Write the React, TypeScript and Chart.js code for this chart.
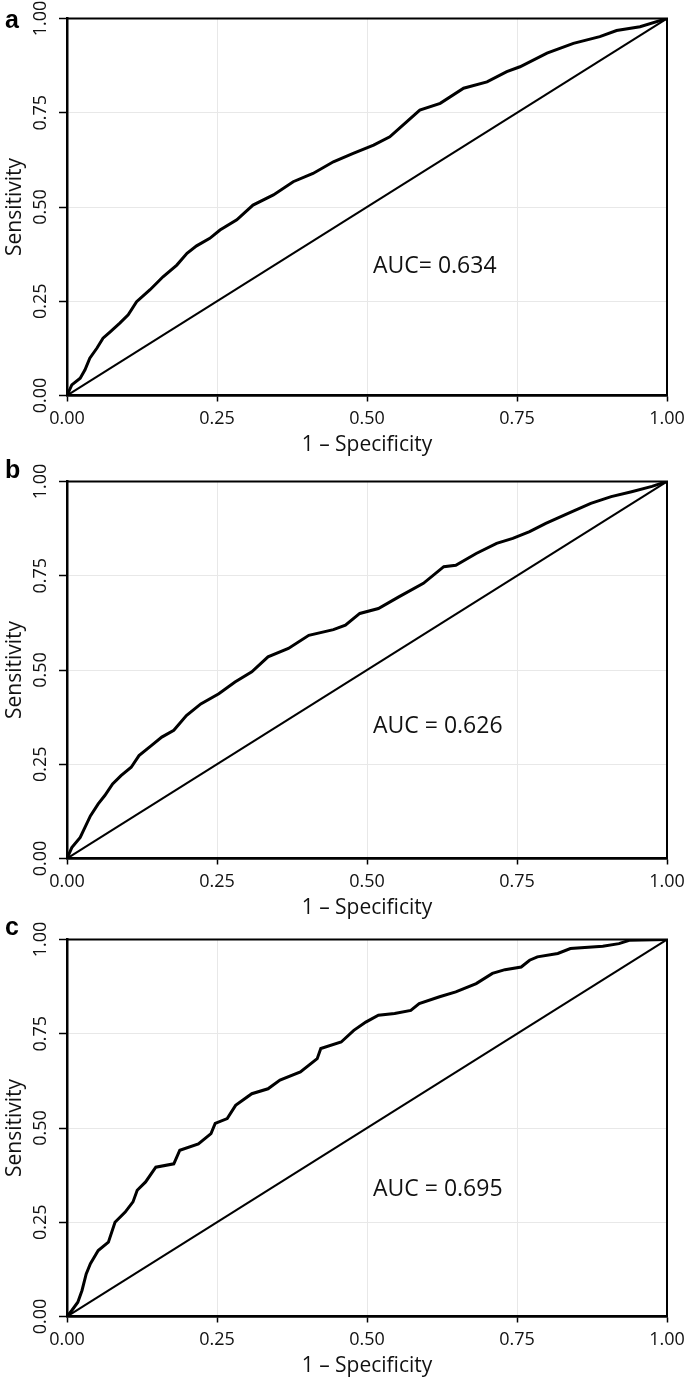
import React, { useEffect, useRef } from "react";
import { Chart, registerables } from "chart.js";

Chart.register(...registerables);

// ---- data ----
const tickValues = [0, 0.25, 0.5, 0.75, 1];
const panelLetters = ["a", "b", "c"];
const aucLabels = ["AUC= 0.634", "AUC = 0.626", "AUC = 0.695"];
const aucAtX = [0.51, 0.51, 0.51];
const aucAtY = [0.342, 0.351, 0.337];
const xTitle = "1 \u2013 Specificity";
const yTitle = "Sensitivity";

const diagX = [0, 1];
const diagY = [0, 1];

const rocAX = [0, 0.008, 0.022, 0.03, 0.038, 0.05, 0.06, 0.072, 0.088, 0.102, 0.116, 0.138, 0.16, 0.183, 0.2, 0.216, 0.238, 0.255, 0.283, 0.31, 0.344, 0.377, 0.41, 0.444, 0.477, 0.511, 0.538, 0.566, 0.588, 0.622, 0.661, 0.7, 0.733, 0.755, 0.8, 0.844, 0.888, 0.916, 0.955, 1];
const rocAY = [0, 0.028, 0.046, 0.068, 0.099, 0.126, 0.152, 0.169, 0.192, 0.214, 0.249, 0.28, 0.315, 0.346, 0.377, 0.397, 0.417, 0.439, 0.466, 0.505, 0.532, 0.567, 0.589, 0.62, 0.642, 0.664, 0.686, 0.726, 0.757, 0.775, 0.815, 0.832, 0.859, 0.872, 0.908, 0.934, 0.952, 0.968, 0.978, 1];

const rocBX = [0, 0.008, 0.022, 0.039, 0.052, 0.063, 0.076, 0.09, 0.107, 0.12, 0.141, 0.158, 0.178, 0.199, 0.223, 0.253, 0.28, 0.308, 0.335, 0.369, 0.403, 0.444, 0.464, 0.488, 0.519, 0.553, 0.594, 0.628, 0.648, 0.682, 0.716, 0.743, 0.771, 0.798, 0.839, 0.873, 0.907, 0.941, 0.975, 1];
const rocBY = [0, 0.029, 0.056, 0.113, 0.145, 0.167, 0.198, 0.22, 0.242, 0.273, 0.3, 0.322, 0.34, 0.379, 0.41, 0.437, 0.468, 0.495, 0.535, 0.557, 0.592, 0.607, 0.619, 0.65, 0.663, 0.694, 0.73, 0.774, 0.778, 0.809, 0.836, 0.849, 0.867, 0.889, 0.918, 0.942, 0.96, 0.973, 0.987, 1];

const rocCX = [0, 0.008, 0.018, 0.025, 0.032, 0.039, 0.052, 0.069, 0.08, 0.097, 0.11, 0.117, 0.131, 0.148, 0.178, 0.188, 0.219, 0.24, 0.247, 0.267, 0.281, 0.308, 0.335, 0.355, 0.389, 0.417, 0.423, 0.457, 0.478, 0.498, 0.519, 0.546, 0.573, 0.587, 0.621, 0.648, 0.682, 0.709, 0.73, 0.757, 0.771, 0.784, 0.818, 0.839, 0.893, 0.92, 0.937, 1];
const rocCY = [0, 0.016, 0.038, 0.069, 0.113, 0.14, 0.175, 0.197, 0.25, 0.277, 0.304, 0.335, 0.357, 0.396, 0.405, 0.441, 0.458, 0.485, 0.512, 0.525, 0.56, 0.591, 0.604, 0.627, 0.649, 0.684, 0.711, 0.728, 0.759, 0.781, 0.799, 0.804, 0.812, 0.83, 0.848, 0.861, 0.883, 0.91, 0.92, 0.927, 0.945, 0.954, 0.963, 0.976, 0.982, 0.989, 0.998, 1];

const rocX = [rocAX, rocBX, rocCX];
const rocY = [rocAY, rocBY, rocCY];

const FONT = "'Open Sans', 'Noto Sans', sans-serif";
const W = 685;
const H = 458;
const panelTops = [0, 463, 921];
const letterTops = [7, 457, 914];

const toPoints = (xs: number[], ys: number[]) => xs.map((x, i) => ({ x, y: ys[i] }));

function Panel({ index }: { index: number }) {
  const ref = useRef<HTMLCanvasElement | null>(null);
  useEffect(() => {
    const canvas = ref.current;
    if (!canvas) return;
    const framePlugin = {
      id: "frameAndAuc",
      afterDraw(chart: any) {
        const { ctx, chartArea } = chart;
        const { left, top, right, bottom } = chartArea;
        ctx.save();
        ctx.strokeStyle = "#000";
        ctx.lineWidth = 2;
        ctx.strokeRect(left, top, right - left, bottom - top);
        ctx.fillStyle = "#111";
        ctx.font = `23px ${FONT}`;
        ctx.textAlign = "left";
        ctx.textBaseline = "middle";
        const px = chart.scales.x.getPixelForValue(aucAtX[index]);
        const py = chart.scales.y.getPixelForValue(aucAtY[index]);
        ctx.fillText(aucLabels[index], px, py);
        ctx.restore();
      },
    };
    const tickCb = (v: any) => Number(v).toFixed(2);
    const chart = new Chart(canvas, {
      type: "line",
      data: {
        datasets: [
          {
            data: toPoints(diagX, diagY),
            borderColor: "#000",
            borderWidth: 2,
            pointRadius: 0,
            tension: 0,
          },
          {
            data: toPoints(rocX[index], rocY[index]),
            borderColor: "#000",
            borderWidth: 3,
            pointRadius: 0,
            tension: 0,
          },
        ],
      },
      options: {
        animation: false,
        responsive: false,
        devicePixelRatio: 1,
        layout: { padding: { left: 0, right: 18, top: 18.5, bottom: 0 } },
        plugins: { legend: { display: false }, tooltip: { enabled: false } },
        scales: {
          x: {
            type: "linear",
            min: 0,
            max: 1,
            afterBuildTicks: (axis: any) => {
              axis.ticks = tickValues.map((v) => ({ value: v }));
            },
            ticks: {
              callback: tickCb,
              font: { family: FONT, size: 18 },
              color: "#111",
              padding: 7,
              maxRotation: 0,
              autoSkip: false,
            },
            grid: { color: "#e8e8e8", lineWidth: 1, tickColor: "#000", tickLength: 6, tickWidth: 1.5 },
            border: { display: true, color: "#000", width: 2.5 },
            title: {
              display: true,
              text: xTitle,
              font: { family: FONT, size: 21 },
              color: "#111",
              padding: { top: 0, bottom: 0 },
            },
            afterFit: (s: any) => {
              s.height = 62.5;
              s.paddingLeft = 0;
              s.paddingRight = 0;
            },
          },
          y: {
            type: "linear",
            min: 0,
            max: 1,
            afterBuildTicks: (axis: any) => {
              axis.ticks = tickValues.map((v) => ({ value: v }));
            },
            ticks: {
              callback: tickCb,
              font: { family: FONT, size: 18 },
              color: "#111",
              padding: 0,
              minRotation: 90,
              maxRotation: 90,
              crossAlign: "center",
              autoSkip: false,
            },
            grid: { color: "#e8e8e8", lineWidth: 1, tickColor: "#000", tickLength: 8, tickWidth: 1.5 },
            border: { display: true, color: "#000", width: 2.5 },
            title: {
              display: true,
              text: yTitle,
              font: { family: FONT, size: 21 },
              color: "#111",
              padding: { top: 2, bottom: 0 },
            },
            afterFit: (s: any) => {
              s.width = 67;
              s.paddingTop = 0;
              s.paddingBottom = 0;
            },
          },
        },
      },
      plugins: [framePlugin],
    } as any);
    return () => chart.destroy();
  }, [index]);

  return (
    <>
      <canvas
        ref={ref}
        width={W}
        height={H}
        style={{ position: "absolute", left: 0, top: panelTops[index], width: W, height: H }}
      />
      <div
        style={{
          position: "absolute",
          left: 5,
          top: letterTops[index],
          fontFamily: "'Liberation Sans', Arial, sans-serif",
          fontWeight: "bold",
          fontSize: 25,
          lineHeight: "25px",
          color: "#000",
        }}
      >
        {panelLetters[index]}
      </div>
    </>
  );
}

export default function App() {
  return (
    <div style={{ position: "absolute", left: 0, top: 0, width: W, height: 1379, background: "#fff" }}>
      <Panel index={0} />
      <Panel index={1} />
      <Panel index={2} />
    </div>
  );
}
